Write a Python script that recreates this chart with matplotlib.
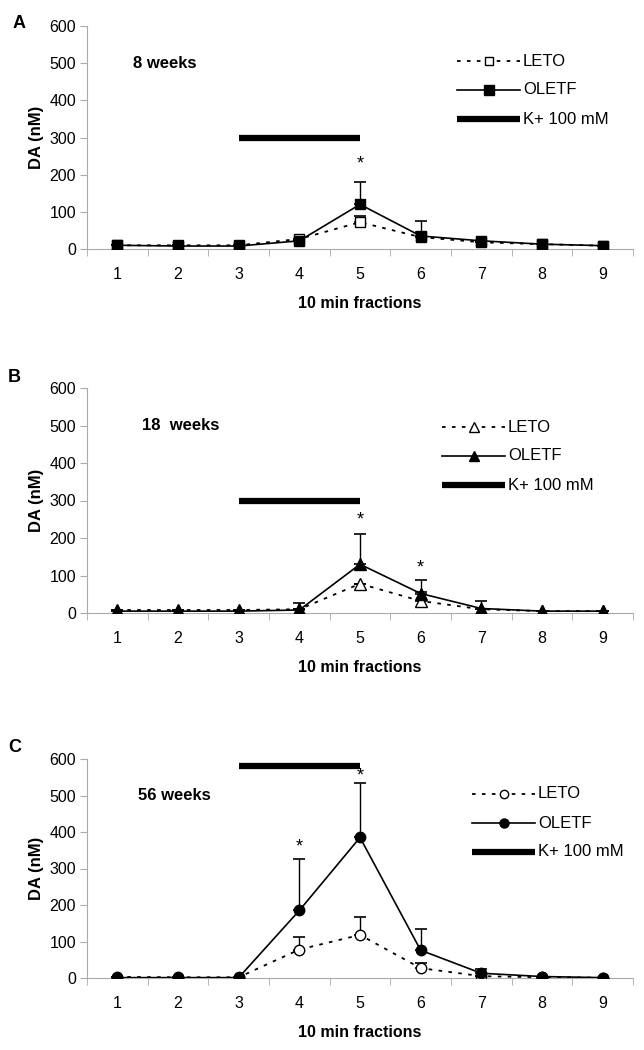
import numpy as np
import matplotlib
matplotlib.use("Agg")
import matplotlib.pyplot as plt

plt.rcParams['font.family'] = ['Liberation Sans', 'DejaVu Sans']

W, H = 644, 1050
fractions = [1, 2, 3, 4, 5, 6, 7, 8, 9]

# panel A - 8 weeks
leto_a = [10, 10, 10, 27, 72, 32, 18, 13, 9]
leto_a_err = [0, 0, 0, 0, 18, 13, 0, 0, 0]
oletf_a = [10, 8, 8, 22, 120, 35, 22, 13, 9]
oletf_a_err = [0, 0, 0, 0, 60, 40, 0, 0, 0]

# panel B - 18 weeks
leto_b = [8, 8, 8, 10, 78, 32, 10, 5, 5]
leto_b_err = [0, 0, 0, 0, 0, 25, 0, 0, 0]
oletf_b = [5, 5, 5, 8, 130, 52, 12, 5, 5]
oletf_b_err = [0, 0, 0, 20, 80, 35, 20, 0, 0]

# panel C - 56 weeks
leto_c = [3, 2, 2, 78, 118, 27, 5, 2, 1]
leto_c_err = [0, 0, 0, 34, 49, 15, 0, 0, 0]
oletf_c = [1, 1, 1, 185, 385, 76, 13, 4, 1]
oletf_c_err = [0, 0, 0, 140, 148, 57, 12, 0, 0]

# layout in pixels: axes top/bottom, legend spot, label spot
panels = [
    dict(letter="A", title="8 weeks", leto=leto_a, leto_err=leto_a_err,
         oletf=oletf_a, oletf_err=oletf_a_err, marker="s",
         stars=[(5, 230)], kbar=300, top=26, bot=249,
         title_xy=(133, 64), leg_xy=(457, 61), letter_xy=(13, 23)),
    dict(letter="B", title="18  weeks", leto=leto_b, leto_err=leto_b_err,
         oletf=oletf_b, oletf_err=oletf_b_err, marker="^",
         stars=[(5, 247), (6, 120)], kbar=300, top=388, bot=613,
         title_xy=(142, 426), leg_xy=(442, 427), letter_xy=(8, 378)),
    dict(letter="C", title="56 weeks", leto=leto_c, leto_err=leto_c_err,
         oletf=oletf_c, oletf_err=oletf_c_err, marker="o",
         stars=[(4, 360), (5, 553)], kbar=580, top=759, bot=978,
         title_xy=(138, 796), leg_xy=(472, 794), letter_xy=(8, 748)),
]

fig = plt.figure(figsize=(W / 100, H / 100), dpi=100)
grey = "#aaaaaa"
dots = (0, (2, 3.5))
ax_left, ax_right = 87, 633


def fx(px):
    return px / W


def fy(py):
    return 1 - py / H


for p in panels:
    ax = fig.add_axes([fx(ax_left), fy(p["bot"]), (ax_right - ax_left) / W,
                       (p["bot"] - p["top"]) / H])
    x = np.array(fractions)
    mk = p["marker"]
    ms = {"s": 7.5, "^": 8.5, "o": 7.5}[mk]
    # LETO
    ax.errorbar(x, p["leto"], yerr=[np.zeros(9), p["leto_err"]], fmt="none",
                ecolor="black", elinewidth=1, capsize=4.5, capthick=1.2)
    ax.plot(x, p["leto"], linestyle=dots, color="black", lw=1.3,
            marker=mk, markersize=ms, markerfacecolor="white",
            markeredgecolor="black", markeredgewidth=1, zorder=3)
    # OLETF
    ax.errorbar(x, p["oletf"], yerr=[np.zeros(9), p["oletf_err"]], fmt="none",
                ecolor="black", elinewidth=1, capsize=4.5, capthick=1.2)
    ax.plot(x, p["oletf"], linestyle="-", color="black", lw=1.2,
            marker=mk, markersize=ms, markerfacecolor="black",
            markeredgecolor="black", zorder=4)
    # K+ stimulation bar
    ax.plot([3, 5], [p["kbar"], p["kbar"]], color="black", lw=4.5,
            solid_capstyle="butt")

    for sx, sy in p["stars"]:
        ax.text(sx, sy, "*", ha="center", va="center", fontsize=13)

    ax.set_xlim(0.5, 9.5)
    ax.set_ylim(0, 600)
    ax.set_yticks(range(0, 601, 100))
    ax.set_xticks(fractions)
    ax.set_xticks(np.arange(0.5, 9.6, 1), minor=True)
    ax.tick_params(axis="x", which="major", length=0, pad=13, labelsize=11.5)
    ax.tick_params(axis="x", which="minor", length=5, color=grey, direction="out")
    ax.tick_params(axis="y", length=5, color=grey, labelsize=11.5, pad=3)
    for s in ["top", "right"]:
        ax.spines[s].set_visible(False)
    ax.spines["left"].set_color(grey)
    ax.spines["bottom"].set_color(grey)

    ax.set_ylabel("DA (nM)", fontsize=12, fontweight="bold", labelpad=4)
    ax.set_xlabel("10 min fractions", fontsize=11.5, fontweight="bold", labelpad=10)

    # panel letter and age label
    fig.text(fx(p["letter_xy"][0]), fy(p["letter_xy"][1]), p["letter"],
             fontsize=13, fontweight="bold", ha="left", va="center")
    fig.text(fx(p["title_xy"][0]), fy(p["title_xy"][1]), p["title"],
             fontsize=12, fontweight="bold", ha="left", va="center")

    # legend drawn by hand, Excel style
    lx, ly = p["leg_xy"]
    rows = [("LETO", dict(linestyle=dots, lw=1.3, marker=mk, markersize=ms - 1.5,
                          markerfacecolor="white", markeredgecolor="black")),
            ("OLETF", dict(linestyle="-", lw=1.2, marker=mk, markersize=ms - 1,
                           markerfacecolor="black", markeredgecolor="black")),
            ("K+ 100 mM", dict(linestyle="-", lw=4.5, solid_capstyle="butt"))]
    for i, (lab, st) in enumerate(rows):
        yy = fy(ly + i * 29)
        fig.add_artist(plt.Line2D([fx(lx), fx(lx + 63)], [yy, yy], color="black",
                                  markevery=[], **st))
        if "marker" in st:
            fig.add_artist(plt.Line2D([fx(lx + 32)], [yy], color="black",
                                      linestyle="none",
                                      **{k: v for k, v in st.items()
                                         if k not in ("linestyle", "lw")}))
        fig.text(fx(lx + 66), yy, lab, fontsize=12, ha="left", va="center")

fig.savefig("out.png", dpi=100)
